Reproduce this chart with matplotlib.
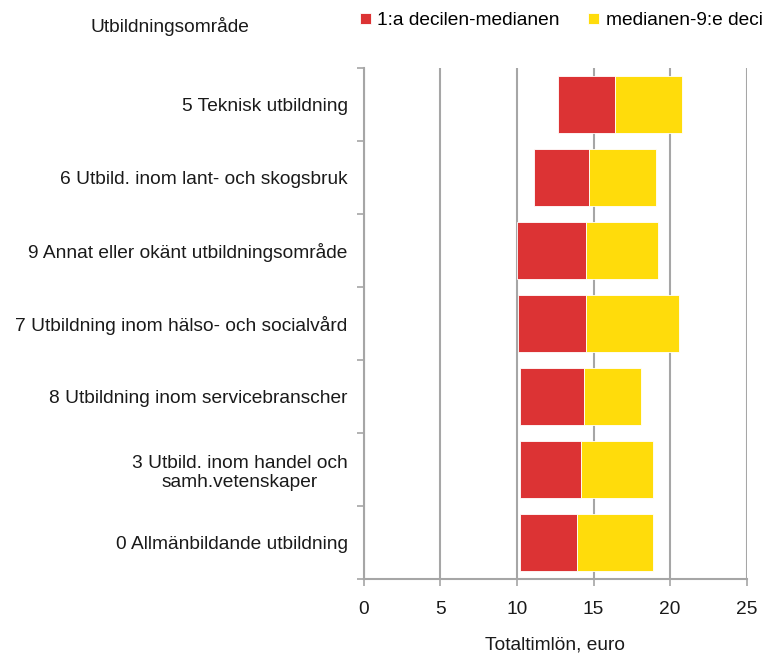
import matplotlib.pyplot as plt
import numpy as np

plt.rcParams['font.family'] = ['Liberation Sans', 'DejaVu Sans']

# Utbildningsområden, uppifrån och ned
categories = [
    "5 Teknisk utbildning",
    "6 Utbild. inom lant- och skogsbruk",
    "9 Annat eller okänt utbildningsområde",
    "7 Utbildning inom hälso- och socialvård",
    "8 Utbildning inom servicebranscher",
    "3 Utbild. inom handel och\nsamh.vetenskaper",
    "0 Allmänbildande utbildning",
]
decil1 = [12.7, 11.1, 10.0, 10.1, 10.2, 10.2, 10.2]
median = [16.4, 14.7, 14.5, 14.5, 14.4, 14.2, 13.9]
decil9 = [20.8, 19.1, 19.2, 20.6, 18.1, 18.9, 18.9]

red = '#DC3334'
yellow = '#FFDC0B'
grey = '#A6A6A6'
txt = '#1a1a1a'
fs = 13.8

fig = plt.figure(figsize=(7.62, 6.55), dpi=100)
ax = fig.add_axes([0.4773, 0.116, 0.5027, 0.7802])

y = np.arange(len(categories))
d1 = np.array(decil1)
md = np.array(median)
d9 = np.array(decil9)

ax.barh(y, md - d1, left=d1, height=0.77, color=red, edgecolor='white', linewidth=0.6,
        label='1:a decilen-medianen', zorder=3)
ax.barh(y, d9 - md, left=md, height=0.77, color=yellow, edgecolor='white', linewidth=0.6,
        label='medianen-9:e decilen', zorder=3)

ax.set_xlim(0, 25)
ax.set_ylim(len(categories) - 0.5, -0.5)
ax.set_xticks([0, 5, 10, 15, 20, 25])
ax.set_yticks(y)
ax.set_yticklabels(categories, multialignment='center')
ax.set_yticks(np.arange(-0.5, len(categories), 1), minor=True)
ax.tick_params(axis='y', which='major', length=0, pad=11.5, labelsize=fs, colors=txt)
ax.tick_params(axis='y', which='minor', length=5, width=1.2, color=grey)
ax.tick_params(axis='x', length=5, width=1.2, color=grey, labelsize=fs, pad=10.5,
               labelcolor=txt)

ax.grid(axis='x', color=grey, linewidth=1.5, zorder=0)
for s in ['top', 'right']:
    ax.spines[s].set_visible(False)
for s in ['left', 'bottom']:
    ax.spines[s].set_color(grey)
    ax.spines[s].set_linewidth(1.5)

ax.set_xlabel('Totaltimlön, euro', fontsize=fs, labelpad=14, color=txt)

fig.text(0.2231, 0.9603, 'Utbildningsområde', fontsize=fs, ha='center', va='center',
         color=txt)
# legenden går utanför kanten precis som i originalet
ax.legend(loc='center left', bbox_to_anchor=(0.4724, 0.968), bbox_transform=fig.transFigure,
          ncol=2, frameon=False, fontsize=fs, handlelength=0.55, handleheight=0.55,
          handletextpad=0.35, columnspacing=1.5, borderaxespad=0, borderpad=0)

fig.savefig('out.png', dpi=100)
